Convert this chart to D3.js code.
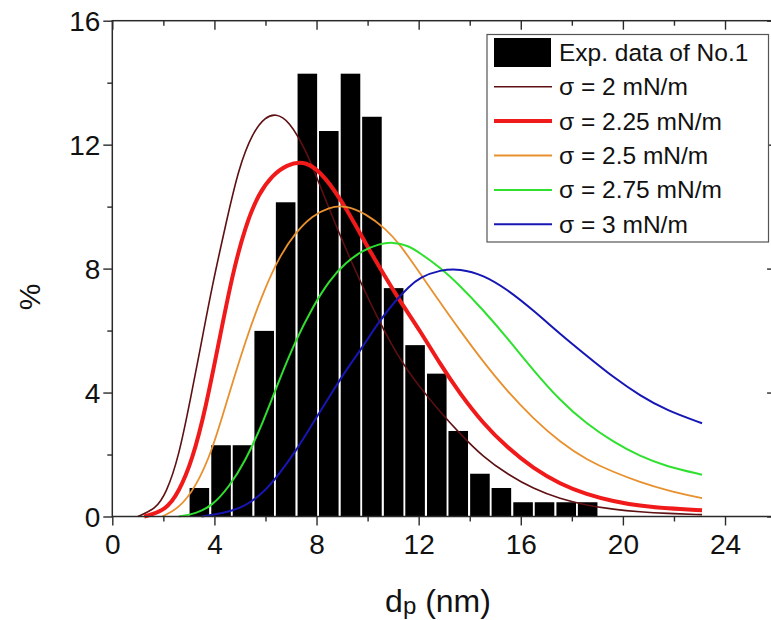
<!DOCTYPE html>
<html>
<head>
<meta charset="utf-8">
<script src="https://cdn.jsdelivr.net/npm/d3@7"></script>
<style>
  html, body { margin: 0; padding: 0; background: #fff; }
  svg { display: block; }
  text { font-family: "Liberation Sans", Arial, sans-serif; fill: #111; }
</style>
</head>
<body>
<svg id="chart" width="771" height="620"></svg>
<script>
// ---------- data ----------
const binCenters = [3.41, 4.26, 5.10, 5.95, 6.79, 7.64, 8.48, 9.33, 10.17, 11.02, 11.86, 12.71, 13.55, 14.40, 15.24, 16.09, 16.93, 17.78, 18.62];
const binWidth = 0.845;
const binPercent = [0.92, 2.30, 2.30, 5.99, 10.14, 14.29, 12.44, 14.29, 12.90, 7.37, 5.53, 4.61, 2.76, 1.38, 0.92, 0.46, 0.46, 0.46, 0.46];

const curveSigma2 = [[1.0,0],[1.7,0.25],[2.1,0.73],[2.6,1.9],[3.1,3.95],[3.5,5.65],[3.9,7.4],[4.45,9.45],[4.95,11.25],[5.5,12.4],[6.0,12.9],[6.4,13.0],[6.9,12.8],[7.6,11.8],[8.1,10.75],[8.9,9.1],[9.7,7.6],[10.45,6.3],[11.27,5.05],[12.05,4.17],[12.84,3.37],[13.62,2.67],[14.54,1.91],[15.45,1.38],[16.5,0.89],[17.54,0.57],[18.58,0.36],[19.63,0.23],[20.67,0.15],[21.72,0.1],[23.1,0.06]];
const curveSigma225 = [[1.25,0],[2.1,0.2],[2.6,0.78],[3.13,1.8],[3.66,3.5],[4.18,5.65],[4.7,7.8],[5.22,9.4],[5.75,10.45],[6.27,11.0],[6.8,11.35],[7.6,11.5],[8.36,10.95],[9.14,9.98],[9.93,8.8],[10.71,7.7],[11.27,6.95],[12.05,6.0],[12.84,4.92],[13.62,3.96],[14.54,2.99],[15.45,2.24],[16.5,1.54],[17.54,1.05],[18.58,0.71],[19.63,0.49],[20.67,0.34],[21.72,0.26],[23.1,0.2]];
const curveSigma25 = [[1.95,0],[2.6,0.25],[3.27,0.95],[3.92,2.13],[4.57,3.95],[5.22,5.68],[5.88,7.18],[6.53,8.37],[7.18,9.17],[7.84,9.71],[8.49,9.98],[9.1,10.05],[9.93,9.78],[10.71,9.28],[11.27,8.78],[12.05,7.85],[12.84,6.91],[13.62,6.0],[14.54,4.98],[15.45,4.06],[16.5,3.15],[17.54,2.4],[18.58,1.83],[19.63,1.43],[20.67,1.11],[21.72,0.84],[23.1,0.59]];
const curveSigma275 = [[2.6,0],[3.27,0.09],[3.92,0.35],[4.57,0.95],[5.22,1.8],[5.88,2.99],[6.53,4.39],[7.18,5.68],[7.84,6.75],[8.49,7.61],[9.14,8.2],[9.8,8.58],[10.45,8.8],[11.0,8.86],[11.6,8.74],[12.05,8.5],[12.84,8.04],[13.62,7.45],[14.54,6.65],[15.45,5.78],[16.5,4.71],[17.54,3.74],[18.58,2.99],[19.63,2.4],[20.67,1.94],[21.72,1.61],[23.1,1.35]];
const curveSigma3 = [[3.5,0],[4.57,0.14],[5.22,0.35],[5.88,0.73],[6.53,1.36],[7.18,2.1],[7.84,2.99],[8.49,3.85],[9.14,4.71],[9.8,5.46],[10.45,6.3],[11.1,6.97],[11.6,7.4],[12.05,7.72],[12.84,7.96],[13.62,8.0],[14.54,7.79],[15.45,7.34],[16.5,6.65],[17.54,5.89],[18.58,5.19],[19.63,4.49],[20.67,3.9],[21.72,3.42],[23.1,3.01]];

const seriesNames = ["σ = 2 mN/m", "σ = 2.25 mN/m", "σ = 2.5 mN/m", "σ = 2.75 mN/m", "σ = 3 mN/m"];
const seriesData = [curveSigma2, curveSigma225, curveSigma25, curveSigma275, curveSigma3];
const seriesColors = ["#5e1012", "#f01a1a", "#e8902e", "#2fe02f", "#1616b4"];
const seriesWidths = [1.6, 4, 1.8, 2, 2];
const barLabel = "Exp. data of No.1";

const xMajorTicks = [0, 4, 8, 12, 16, 20, 24];
const xMinorTicks = [2, 6, 10, 14, 18, 22];
const yMajorTicks = [0, 4, 8, 12, 16];
const yMinorTicks = [2, 6, 10, 14];
const xTitleMain = "d", xTitleSub = "p", xTitleRest = " (nm)";
const yTitle = "%";

// ---------- scales ----------
const svg = d3.select("#chart");
const x = d3.scaleLinear().domain([0, 26]).range([112.3, 112.3 + 26 * 25.53]);
const y = d3.scaleLinear().domain([0, 16]).range([516.5, 20.7]);
const X0 = x(0), X1 = x(26), Y0 = y(0), Y1 = y(16);

// ---------- bars ----------
svg.append("g").selectAll("rect")
  .data(binCenters)
  .join("rect")
  .attr("x", (d) => x(d - binWidth / 2) + 1)
  .attr("width", (d) => x(d + binWidth / 2) - x(d - binWidth / 2) - 2)
  .attr("y", (d, i) => y(binPercent[i]))
  .attr("height", (d, i) => Y0 - y(binPercent[i]))
  .attr("fill", "#000");

// ---------- curves ----------
const line = d3.line().x(d => x(d[0])).y(d => y(d[1])).curve(d3.curveBasis);
seriesData.forEach((s, i) => {
  svg.append("path")
    .datum(s)
    .attr("d", line)
    .attr("fill", "none")
    .attr("stroke", seriesColors[i])
    .attr("stroke-width", seriesWidths[i])
    .attr("stroke-linejoin", "round");
});

// ---------- axes ----------
const axisColor = "#2a2a2a";
function styleAxis(g) {
  g.select(".domain").remove();
  g.selectAll("line").attr("stroke", axisColor).attr("stroke-width", 1.4);
}
svg.append("g").attr("transform", `translate(0,${Y0})`)
  .call(d3.axisBottom(x).tickValues(xMajorTicks).tickSize(9).tickPadding(8).tickFormat(d3.format("d")))
  .call(styleAxis)
  .call(g => g.selectAll("text").attr("font-size", 28).attr("fill", "#111").attr("dy", "0.72em"));
svg.append("g").attr("transform", `translate(0,${Y0})`)
  .call(d3.axisBottom(x).tickValues(xMinorTicks).tickSize(5).tickFormat(""))
  .call(styleAxis);
svg.append("g").attr("transform", `translate(0,${Y1})`)
  .call(d3.axisTop(x).tickValues(xMajorTicks).tickSize(-9).tickFormat(""))
  .call(styleAxis);
svg.append("g").attr("transform", `translate(0,${Y1})`)
  .call(d3.axisTop(x).tickValues(xMinorTicks).tickSize(-5).tickFormat(""))
  .call(styleAxis);
svg.append("g").attr("transform", `translate(${X0},0)`)
  .call(d3.axisLeft(y).tickValues(yMajorTicks).tickSize(9).tickPadding(3).tickFormat(d3.format("d")))
  .call(styleAxis)
  .call(g => g.selectAll("text").attr("font-size", 28).attr("fill", "#111").attr("dy", "0.36em"));
svg.append("g").attr("transform", `translate(${X0},0)`)
  .call(d3.axisLeft(y).tickValues(yMinorTicks).tickSize(5).tickFormat(""))
  .call(styleAxis);
svg.append("g").attr("transform", `translate(${X1},0)`)
  .call(d3.axisRight(y).tickValues(yMajorTicks).tickSize(-9).tickFormat(""))
  .call(styleAxis);
svg.append("g").attr("transform", `translate(${X1},0)`)
  .call(d3.axisRight(y).tickValues(yMinorTicks).tickSize(-5).tickFormat(""))
  .call(styleAxis);

svg.append("rect")
  .attr("x", X0).attr("y", Y1).attr("width", X1 - X0).attr("height", Y0 - Y1)
  .attr("fill", "none").attr("stroke", axisColor).attr("stroke-width", 1.5);

// ---------- titles ----------
const xt = svg.append("text")
  .attr("x", 438).attr("y", 612).attr("text-anchor", "middle").attr("font-size", 32);
xt.append("tspan").text(xTitleMain);
xt.append("tspan").attr("font-size", 24).attr("dy", 2).text(xTitleSub);
xt.append("tspan").attr("font-size", 32).attr("dy", -2).text(xTitleRest);

svg.append("text")
  .attr("transform", "translate(40,297) rotate(-90)")
  .attr("text-anchor", "middle").attr("font-size", 30).text(yTitle);

// ---------- legend ----------
const lg = svg.append("g");
lg.append("rect").attr("x", 487).attr("y", 34.5).attr("width", 281.5).attr("height", 207.5)
  .attr("fill", "#fff").attr("stroke", "#555").attr("stroke-width", 1.2);
const rowY = (i) => 52.3 + i * 34.4;
lg.append("rect").attr("x", 494).attr("y", 38).attr("width", 57).attr("height", 29).attr("fill", "#000");
lg.append("text").attr("x", 559).attr("y", rowY(0)).attr("dy", "0.35em").attr("font-size", 24.5).text(barLabel);
seriesNames.forEach((name, i) => {
  lg.append("line").attr("x1", 494).attr("x2", 552).attr("y1", rowY(i + 1)).attr("y2", rowY(i + 1))
    .attr("stroke", seriesColors[i]).attr("stroke-width", seriesWidths[i]);
  lg.append("text").attr("x", 559).attr("y", rowY(i + 1)).attr("dy", "0.35em").attr("font-size", 24.5).text(name);
});
</script>
</body>
</html>
